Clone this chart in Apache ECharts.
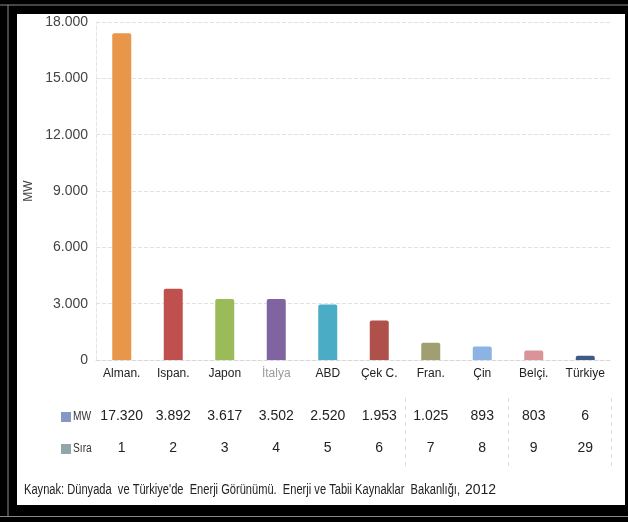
<!DOCTYPE html>
<html>
<head>
<meta charset="utf-8">
<script src="https://cdn.jsdelivr.net/npm/echarts@6/dist/echarts.min.js"></script>
<style>
html,body{margin:0;padding:0;background:#000;}
#c{width:628px;height:522px;}
</style>
</head>
<body>
<div id="c"></div>
<script>
// Data
var categories = ['Alman.', 'Ispan.', 'Japon', 'İtalya', 'ABD', 'Çek C.', 'Fran.', 'Çin', 'Belçi.', 'Türkiye'];
var barValues = [17400, 3800, 3250, 3250, 2950, 2100, 920, 720, 500, 220];
var mwLabels = ['17.320', '3.892', '3.617', '3.502', '2.520', '1.953', '1.025', '893', '803', '6'];
var siraLabels = ['1', '2', '3', '4', '5', '6', '7', '8', '9', '29'];
var barColors = ['#e8964a', '#c0504d', '#9bbb59', '#8064a2', '#4bacc6', '#b0504a', '#a09f72', '#8db3e2', '#d9949a', '#3e5a86'];
var yTicks = { min: 0, max: 18000, interval: 3000 };
var sourceText = 'Kaynak: Dünyada  ve Türkiye\'de  Enerji Görünümü.  Enerji ve Tabii Kaynaklar  Bakanlığı,';
var sourceYear = '2012';

var regular = 'Liberation Sans';

var chart = echarts.init(document.getElementById('c'));
var gridLeft = 96, gridRight = 17, gridTop = 22, gridBottom = 162;

function fmt(v) { return String(v).replace(/\B(?=(\d{3})+(?!\d))/g, '.'); }
function textWidth(t, size) {
  var ctx = document.createElement('canvas').getContext('2d');
  ctx.font = size + 'px ' + regular;
  return ctx.measureText(t).width;
}

var option = {
  backgroundColor: '#000',
  animation: false,
  grid: { left: gridLeft, right: gridRight, top: gridTop, bottom: gridBottom },
  xAxis: [
    {
      type: 'category', data: categories,
      axisLine: { show: true, lineStyle: { color: '#d8d8d8', type: 'dashed' } },
      axisTick: { show: false },
      axisLabel: {
        interval: 0, margin: 8, fontFamily: regular, fontSize: 12, color: '#222',
        formatter: function (v) { return v === 'İtalya' ? '{l|' + v + '}' : v; },
        rich: { l: { color: '#9a9a9a', fontFamily: regular, fontSize: 12 } }
      }
    },
    {
      type: 'category', data: mwLabels, position: 'bottom', offset: 41,
      axisLine: { show: false }, axisTick: { show: false },
      axisLabel: { interval: 0, margin: 8, fontFamily: regular, fontSize: 14, color: '#222' }
    },
    {
      type: 'category', data: siraLabels, position: 'bottom', offset: 73,
      axisLine: { show: false }, axisTick: { show: false },
      axisLabel: { interval: 0, margin: 8, fontFamily: regular, fontSize: 14, color: '#222' }
    }
  ],
  yAxis: {
    type: 'value', min: yTicks.min, max: yTicks.max, interval: yTicks.interval,
    name: 'MW', nameLocation: 'middle', nameGap: 60, nameRotate: 90,
    nameTextStyle: { fontFamily: regular, fontSize: 12, color: '#444' },
    axisLine: { show: true, lineStyle: { color: '#e6e6e6', type: 'dashed' } },
    axisTick: { show: false },
    axisLabel: { margin: 8, fontFamily: regular, fontSize: 14, color: '#444', formatter: fmt },
    splitLine: { show: true, lineStyle: { color: '#e2e2d6', type: 'dashed' } }
  },
  series: [{
    type: 'bar', xAxisIndex: 0, barWidth: 19,
    data: barValues.map(function (v, i) {
      return { value: v, itemStyle: { color: barColors[i], borderRadius: [2, 2, 0, 0] } };
    })
  }],
  graphic: []
};
chart.setOption(option);

// Source note compressed horizontally to mimic a narrow face
var srcW = textWidth(sourceText, 14);
var srcScale = 436 / srcW;

var g = [
  { type: 'rect', shape: { x: 17, y: 14, width: 608, height: 491 }, style: { fill: '#fff' }, z: -10 },
  { type: 'line', shape: { x1: 0, y1: 5, x2: 628, y2: 5 }, style: { stroke: '#8a8a8a', lineWidth: 1 }, z: -10 },
  { type: 'line', shape: { x1: 0, y1: 516.5, x2: 628, y2: 516.5 }, style: { stroke: '#8a8a8a', lineWidth: 1 }, z: -10 },
  { type: 'line', shape: { x1: 8, y1: 5, x2: 8, y2: 516 }, style: { stroke: '#8a8a8a', lineWidth: 1 }, z: -10 },
  { type: 'rect', shape: { x: 61, y: 412, width: 10, height: 10 }, style: { fill: '#8497c7' } },
  { type: 'text', x: 73, y: 417, scaleX: 0.85, style: { text: 'MW', fontFamily: regular, fontSize: 12, fill: '#333', verticalAlign: 'middle' } },
  { type: 'rect', shape: { x: 61, y: 444, width: 10, height: 10 }, style: { fill: '#92a5aa' } },
  { type: 'text', x: 73, y: 449, scaleX: 0.85, style: { text: 'Sıra', fontFamily: regular, fontSize: 12, fill: '#333', verticalAlign: 'middle' } },
  { type: 'text', x: 24, y: 490, scaleX: srcScale, style: { text: sourceText, fontFamily: regular, fontSize: 14, fill: '#222', verticalAlign: 'middle' } },
  { type: 'text', x: 24 + 436 + 5, y: 490, style: { text: sourceYear, fontFamily: regular, fontSize: 14, fill: '#222', verticalAlign: 'middle' } }
];
// separators at category boundaries (after Çek C., after Çin, and at the end)
var bounds = [6, 8, 10];
var step = (628 - gridLeft - gridRight) / categories.length;
bounds.forEach(function (b) {
  var x = Math.round(gridLeft + b * step) + 0.5;
  g.push({ type: 'line', shape: { x1: x, y1: 398, x2: x, y2: 466 },
    style: { stroke: '#dcdcdc', lineWidth: 1, lineDash: [4, 4] } });
});
chart.setOption({ graphic: g });
</script>
</body>
</html>
